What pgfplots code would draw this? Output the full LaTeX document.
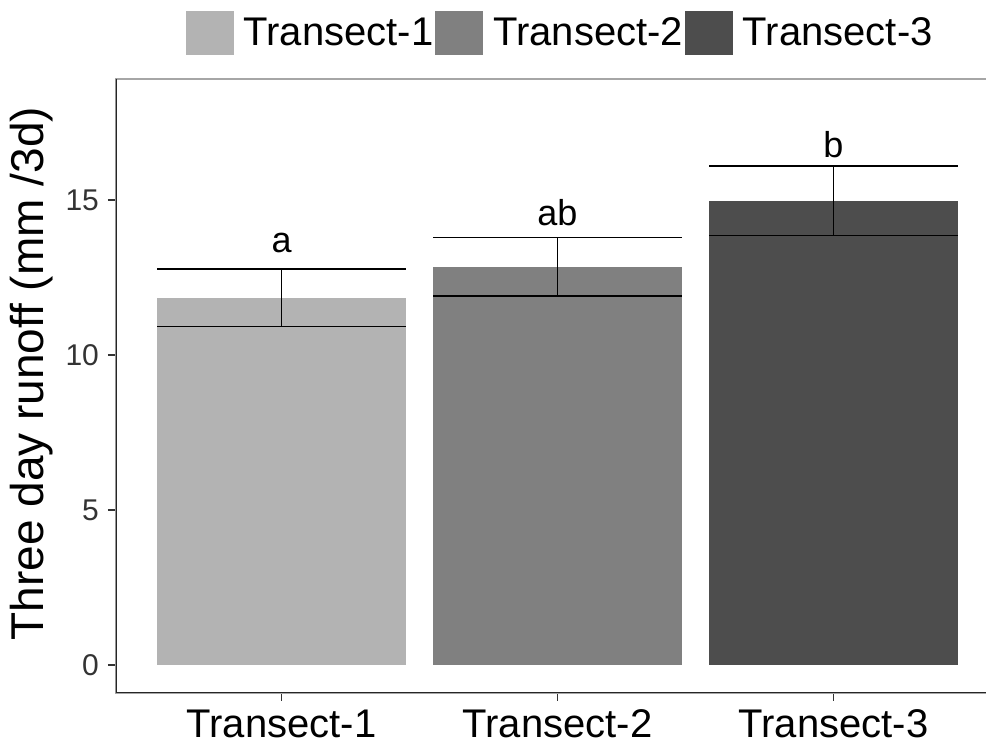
\documentclass[border=0pt]{standalone}
\usepackage{fontspec}
\setmainfont{Liberation Sans}
\usepackage{pgfplots}
\pgfplotsset{compat=1.18}

\definecolor{tone1}{HTML}{B3B3B3}
\definecolor{tone2}{HTML}{808080}
\definecolor{tone3}{HTML}{4D4D4D}

\begin{document}
\begin{tikzpicture}
\begin{axis}[
    at={(0,0)}, anchor=south west, scale only axis,
    width=441.5pt, height=307pt,
    xmin=0.4, xmax=3.6, ymin=-0.9, ymax=18.9,
    xtick={1,2,3}, xticklabels={Transect-1,Transect-2,Transect-3},
    ytick={0,5,10,15},
    tick align=outside, xtick pos=bottom, ytick pos=left,
    major tick length=4pt,
    tick style={black!80, line width=0.7pt},
    axis line style={gray!70, line width=1pt},
    /pgf/number format/assume math mode=true,
    yticklabel style={font=\fontsize{15}{18}\selectfont, text=black!80, xshift=-1pt},
    xticklabel style={font=\fontsize{20}{24}\selectfont, text=black, yshift=-1pt},
    ylabel={Three day runoff (mm /3d)},
    ylabel style={font=\fontsize{23}{27}\selectfont, at={(axis description cs:-0.0951,0.52)}, anchor=center},
    bar width=0.9,
    legend columns=3,
    legend style={at={(0.503,1.075)}, anchor=center, draw=none, fill=none,
        font=\fontsize{20}{24}\selectfont, inner sep=0pt,
        nodes={inner sep=1pt},
        /tikz/every even column/.append style={column sep=0pt},
        /tikz/every odd column/.append style={column sep=4pt}},
    legend image code/.code={\fill[#1, draw=none] (0pt,-11pt) rectangle (24pt,11pt);},
]
\addplot[ybar, bar shift=0pt, fill=tone1, draw=none,
    error bars/.cd, y dir=both, y explicit, error mark=|,
    error bar style={black, line width=0.8pt},
    error mark options={black, mark size=62.1pt, line width=0.8pt}]
    coordinates {(1,11.85) +- (0,0.93)};
\addplot[ybar, bar shift=0pt, fill=tone2, draw=none,
    error bars/.cd, y dir=both, y explicit, error mark=|,
    error bar style={black, line width=0.8pt},
    error mark options={black, mark size=62.1pt, line width=0.8pt}]
    coordinates {(2,12.85) +- (0,0.94)};
\addplot[ybar, bar shift=0pt, fill=tone3, draw=none,
    error bars/.cd, y dir=both, y explicit, error mark=|,
    error bar style={black, line width=0.8pt},
    error mark options={black, mark size=62.1pt, line width=0.8pt}]
    coordinates {(3,14.97) +- (0,1.12)};
\legend{Transect-1,Transect-2,Transect-3}

% significance letters
\addplot[forget plot, draw=none, mark=none, nodes near coords,
    point meta=explicit symbolic,
    nodes near coords style={anchor=center, font=\fontsize{18}{22}\selectfont, text=black}]
    table[meta=lab] {
x y lab
1 13.62 a
2 14.60 ab
3 16.78 b
};

\draw[black!85, line width=0.75pt] (rel axis cs:0,1) -- (rel axis cs:0,0) -- (rel axis cs:1,0);
\end{axis}
\pgfresetboundingbox
\useasboundingbox (-58pt,-27pt) rectangle (435pt,346.5pt);
\end{tikzpicture}
\end{document}
